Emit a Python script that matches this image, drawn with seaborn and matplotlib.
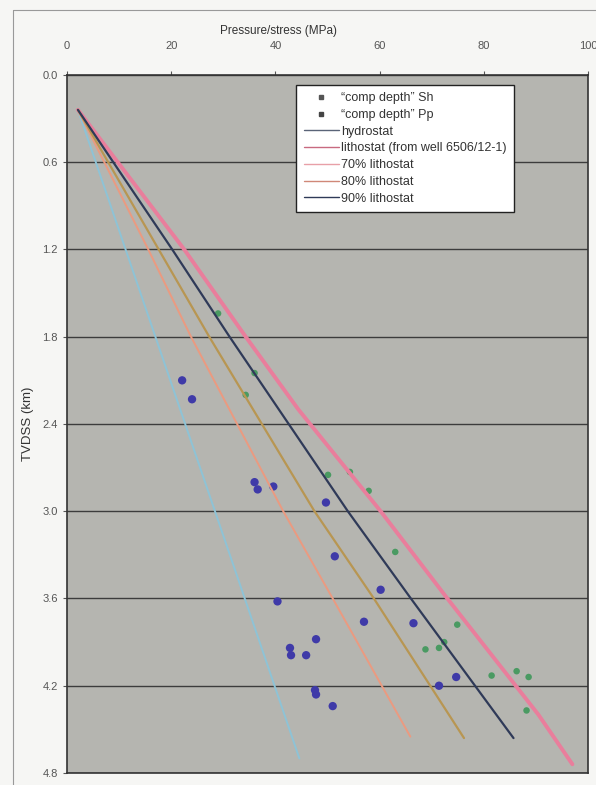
import numpy as np
import pandas as pd
import matplotlib
matplotlib.use("Agg")
import matplotlib.pyplot as plt
import seaborn as sns
from matplotlib.lines import Line2D

# "comp depth" Sh points (green)
sh_p = [29.0, 36.0, 34.3, 50.1, 54.3, 57.9, 63.0, 74.9, 72.4, 71.4, 68.8, 81.5, 88.6, 88.2, 86.3]
sh_d = [1.64, 2.05, 2.20, 2.75, 2.73, 2.86, 3.28, 3.78, 3.90, 3.94, 3.95, 4.13, 4.14, 4.37, 4.10]

# "comp depth" Pp points (blue)
pp_p = [22.1, 24.0, 36.0, 36.6, 39.6, 49.7, 51.4, 60.2, 40.4, 57.0, 66.5, 47.8, 42.8, 43.0,
        45.9, 47.6, 47.8, 51.0, 71.4, 74.7]
pp_d = [2.10, 2.23, 2.80, 2.85, 2.83, 2.94, 3.31, 3.54, 3.62, 3.76, 3.77, 3.88, 3.94, 3.99,
        3.99, 4.23, 4.26, 4.34, 4.20, 4.14]

# gradient lines
hydro_d = [0.24, 4.70]
hydro_p = [2.1, 44.6]
litho_d = [0.24, 1.2, 1.8, 2.3, 3.0, 3.6, 4.4, 4.74]
litho_p = [2.1, 22.5, 34.3, 44.4, 60.2, 73.0, 90.5, 97.0]
l70_d = [0.24, 1.2, 1.8, 3.0, 3.6, 4.55]
l70_p = [2.1, 15.6, 23.8, 41.5, 51.0, 65.9]
l80_d = [0.24, 1.2, 1.8, 3.0, 3.6, 4.56]
l80_p = [2.1, 17.6, 27.3, 47.5, 58.9, 76.2]
l90_d = [0.24, 1.2, 1.8, 3.0, 3.6, 4.56]
l90_p = [2.1, 20.2, 31.2, 53.9, 66.0, 85.7]

labels = ['\u201ccomp depth\u201d Sh', '\u201ccomp depth\u201d Pp', 'hydrostat',
          'lithostat (from well 6506/12-1)', '70% lithostat', '80% lithostat', '90% lithostat']

sns.set_style("white")
plt.rcParams['font.family'] = ['Liberation Sans', 'DejaVu Sans']

fig = plt.figure(figsize=(5.96, 7.85), dpi=100, facecolor='#f6f6f4')
ax = fig.add_axes([0.1124, 0.0153, 0.8742, 0.8892])
ax.set_facecolor('#b5b5b0')

line_specs = [
    (hydro_p, hydro_d, '#8ec3d6', 1.4),
    (litho_p, litho_d, '#e97e9c', 2.8),
    (l70_p, l70_d, '#eb9a80', 1.4),
    (l80_p, l80_d, '#b89652', 1.6),
    (l90_p, l90_d, '#2f3a58', 1.6),
]
for p, d, c, w in line_specs:
    sns.lineplot(x=p, y=d, sort=False, estimator=None, color=c, linewidth=w, ax=ax)

sns.scatterplot(x=sh_p, y=sh_d, color='#4a9a62', s=22, edgecolor='none', ax=ax)
sns.scatterplot(x=pp_p, y=pp_d, color='#3f3aa8', s=36, edgecolor='none', ax=ax)

ax.set_xlim(0, 100)
ax.set_ylim(4.8, 0.0)
ax.set_xticks([0, 20, 40, 60, 80, 100])
ax.set_yticks(np.arange(0, 4.81, 0.6))
ax.set_yticklabels([f'{v:.1f}' for v in np.arange(0, 4.81, 0.6)])
ax.xaxis.tick_top()
ax.xaxis.set_label_position('top')
ax.set_xlabel('Pressure/stress (MPa)', fontsize=8.5, color='#333333')
ax.xaxis.set_label_coords(0.405, 1.058)
ax.set_ylabel('TVDSS (km)', fontsize=9.5, color='#333333')
ax.yaxis.set_label_coords(-0.064, 0.5)
ax.tick_params(axis='both', labelsize=8, colors='#555555', length=3, width=0.8, direction='out')
ax.tick_params(axis='x', top=True, bottom=False, pad=14)
ax.tick_params(axis='y', left=True)
ax.yaxis.grid(True, color='#3c3c3c', linewidth=1.0)
ax.xaxis.grid(False)
for s in ax.spines.values():
    s.set_color('#333333')
    s.set_linewidth(1.2)

handles = [
    Line2D([], [], marker='s', linestyle='none', color='#555555', markersize=3),
    Line2D([], [], marker='s', linestyle='none', color='#444444', markersize=3),
    Line2D([], [], color='#5a6478', linewidth=1),
    Line2D([], [], color='#c86a80', linewidth=1),
    Line2D([], [], color='#e8a0a8', linewidth=1),
    Line2D([], [], color='#d08878', linewidth=1),
    Line2D([], [], color='#2f3a58', linewidth=1),
]
leg = ax.legend(handles, labels, loc='upper left', bbox_to_anchor=(0.44, 0.986),
                fontsize=9, frameon=True, fancybox=False, edgecolor='#222222',
                framealpha=1, handlelength=2.8, labelspacing=0.38, borderpad=0.6,
                handletextpad=0.2, borderaxespad=0)
leg.get_frame().set_linewidth(1.0)
for t in leg.get_texts():
    t.set_color('#333333')

# scanned chart-area frame
fig.add_artist(Line2D([13 / 596, 13 / 596], [0, 1 - 10 / 785], color='#999999', lw=0.8))
fig.add_artist(Line2D([13 / 596, 1], [1 - 10 / 785, 1 - 10 / 785], color='#999999', lw=0.8))

fig.savefig('out.png', dpi=100, facecolor=fig.get_facecolor())
